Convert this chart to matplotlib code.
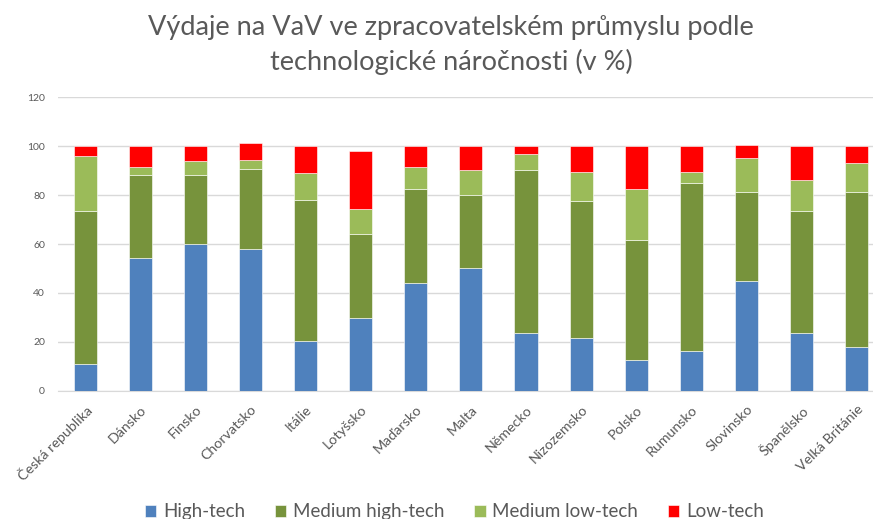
import matplotlib
matplotlib.use('Agg')
import matplotlib.pyplot as plt
import numpy as np

# ============================================================
# DATA
# ============================================================
countries = ['Česká republika', 'Dánsko', 'Finsko', 'Chorvatsko', 'Itálie',
             'Lotyšsko', 'Maďarsko', 'Malta', 'Německo', 'Nizozemsko',
             'Polsko', 'Rumunsko', 'Slovinsko', 'Španělsko', 'Velká Británie']

high_tech = [11.1, 54.1, 59.9, 57.8, 20.5, 29.9, 44.1, 50.0, 23.4, 21.5,
             12.5, 16.2, 44.9, 23.8, 17.9]
medium_high = [62.2, 34.3, 28.5, 32.9, 57.7, 34.2, 38.4, 30.1, 66.9, 56.0,
               49.0, 68.6, 36.2, 49.5, 63.2]
medium_low = [22.9, 3.1, 5.4, 3.7, 10.7, 10.1, 9.0, 10.0, 6.7, 11.8,
              20.8, 4.5, 14.1, 12.7, 11.9]
low_tech = [3.8, 8.5, 6.2, 6.8, 11.1, 23.7, 8.5, 9.9, 3.0, 10.7,
            17.7, 10.7, 5.2, 14.0, 7.0]

series_names = ['High-tech', 'Medium high-tech', 'Medium low-tech', 'Low-tech']
series_colors = ['#4F81BD', '#77933C', '#9BBB59', '#FF0000']

FONT = 'Lato'
GREY = '#595959'

# ============================================================
# FIGURE
# ============================================================
fig = plt.figure(figsize=(8.73, 5.19), dpi=100, facecolor='white')
ax = fig.add_axes([0.0659, 0.2472, 0.947, 0.5653])

x = np.arange(len(countries))
bottom = np.zeros(len(countries))
for vals, name, color in zip([high_tech, medium_high, medium_low, low_tech],
                             series_names, series_colors):
    ax.bar(x, vals, width=0.42, bottom=bottom, color=color, label=name,
           edgecolor='white', linewidth=0.4, zorder=3)
    bottom += np.array(vals)

ax.set_xlim(-0.5, len(countries) - 0.5)
ax.set_ylim(0, 120)
ax.set_yticks(range(0, 121, 20))
ax.yaxis.grid(True, color='#D9D9D9', linewidth=1, zorder=0)
ax.set_axisbelow(True)
for s in ['top', 'right', 'left']:
    ax.spines[s].set_visible(False)
ax.spines['bottom'].set_color('#D9D9D9')
ax.tick_params(axis='both', length=0, colors=GREY)
ax.tick_params(axis='y', pad=9, labelsize=7.5)
ax.tick_params(axis='x', pad=9)

ax.set_xticks(x)
ax.set_xticklabels(countries, rotation=45, ha='right', rotation_mode='anchor',
                   fontsize=10.3, fontfamily=FONT, color=GREY)
for lbl in ax.get_yticklabels():
    lbl.set_fontfamily(FONT)

# ============================================================
# TITLE
# ============================================================
fig.text(0.517, 0.913,
         'Výdaje na VaV ve zpracovatelském průmyslu podle\n'
         'technologické náročnosti (v %)',
         fontsize=19.5, fontfamily=FONT, color=GREY, ha='center', va='center',
         linespacing=1.42)

# ============================================================
# LEGEND
# ============================================================
leg = fig.legend(loc='center', bbox_to_anchor=(0.5206, 0.014), ncol=4,
                 frameon=False, handlelength=0.6, handleheight=0.6,
                 handletextpad=0.35, columnspacing=1.6,
                 prop={'family': FONT, 'size': 13.5})
for t in leg.get_texts():
    t.set_color(GREY)

plt.savefig('out.png', dpi=100, facecolor='white')
plt.close()
